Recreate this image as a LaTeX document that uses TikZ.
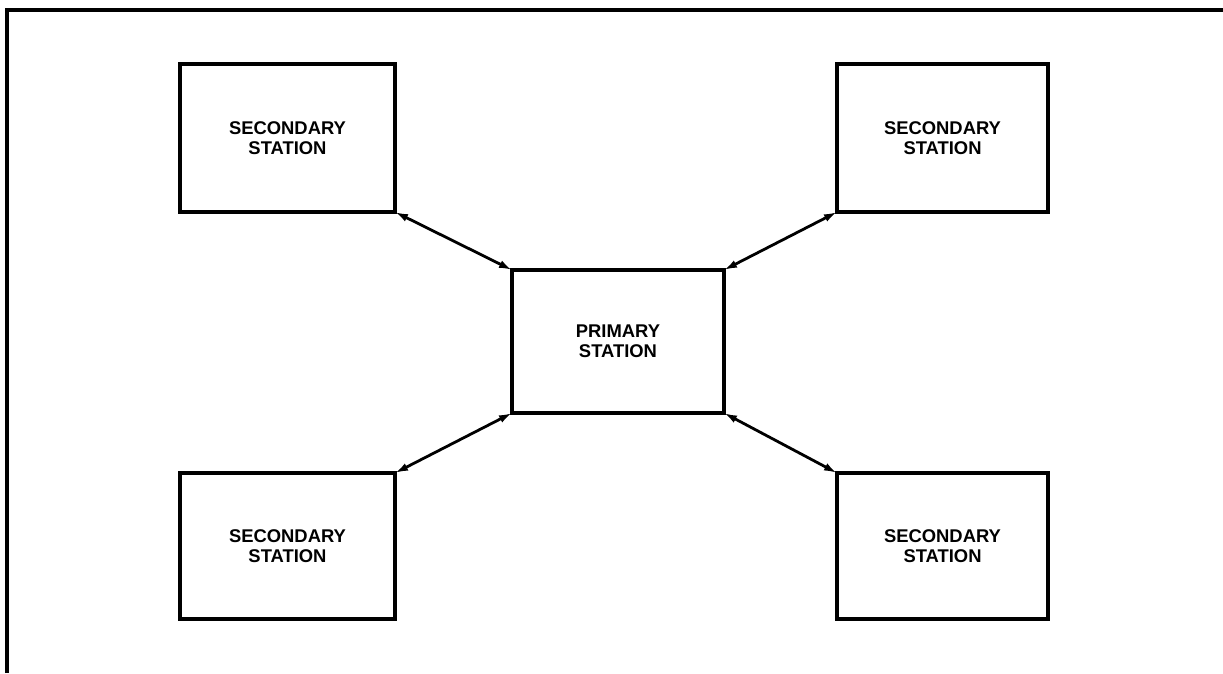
\documentclass[tikz,border=0pt]{standalone}
\usepackage{fontspec}
\setmainfont{Liberation Sans}
\usetikzlibrary{arrows.meta}
\begin{document}
\begin{tikzpicture}[x=1pt,y=-1pt,
  station/.style={draw, line width=3.2pt, rectangle, inner sep=0pt, outer sep=0pt,
    align=center, font=\fontsize{18.4}{20}\selectfont\bfseries},
  link/.style={line width=2.8pt, {Latex[length=13pt,width=8pt]}-{Latex[length=13pt,width=8pt]}},
  frame/.style={line width=3.2pt}]
  \useasboundingbox (0,0) rectangle (1223,673);
  % outer frame (left and top edges)
  \coordinate (fb) at (7,673);
  \coordinate (fc) at (7,10);
  \coordinate (fr) at (1223,10);
  \draw[frame] (fb) -- (fc) -- (fr);
  % stations
  \node[station, minimum width=212pt, minimum height=143pt] (p) at (618,341.5) {PRIMARY\\STATION};
  \node[station, minimum width=215pt, minimum height=148pt] (tl) at (287.5,138) {SECONDARY\\STATION};
  \node[station, minimum width=211pt, minimum height=148pt] (tr) at (942.5,138) {SECONDARY\\STATION};
  \node[station, minimum width=215pt, minimum height=146pt] (bl) at (287.5,546) {SECONDARY\\STATION};
  \node[station, minimum width=211pt, minimum height=146pt] (br) at (942.5,546) {SECONDARY\\STATION};
  % links between primary and secondaries
  \draw[link] (tl.south east) -- (p.north west);
  \draw[link] (tr.south west) -- (p.north east);
  \draw[link] (bl.north east) -- (p.south west);
  \draw[link] (br.north west) -- (p.south east);
\end{tikzpicture}
\end{document}
